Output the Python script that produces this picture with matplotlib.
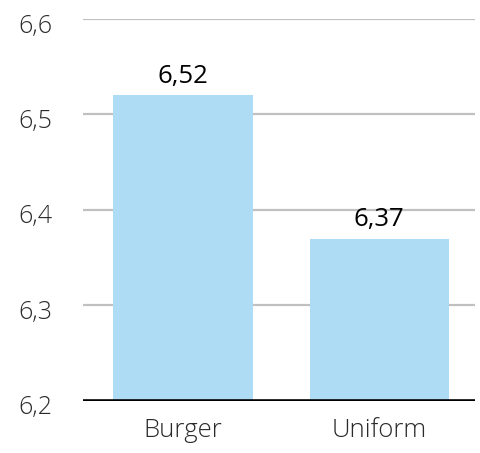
import matplotlib.pyplot as plt
import matplotlib.transforms as mtransforms

# values per group
categories = ['Burger', 'Uniform']
scores = [6.52, 6.37]
yticks = [6.2, 6.3, 6.4, 6.5, 6.6]

bar_color = '#addcf4'
grid_color = '#c0c0c0'
text_color = '#2a2a2a'
font = 'Open Sans'

fig = plt.figure(figsize=(4.8, 4.53), dpi=100)
ax = fig.add_axes([0.173, 0.115, 0.817, 0.843])

x = range(len(categories))
ax.bar(x, scores, width=0.71, bottom=0, color=bar_color, zorder=2)

ax.set_xlim(-0.51, 1.49)
ax.set_ylim(6.2, 6.6)

# horizontal gridlines, black baseline
for y in yticks[1:]:
    ax.axhline(y, color=grid_color, linewidth=1.6, zorder=1)
ax.axhline(yticks[0], color='black', linewidth=2.6, zorder=3)

for s in ax.spines.values():
    s.set_visible(False)

ax.set_yticks(yticks)
ax.set_yticklabels([f'{v:.1f}'.replace('.', ',') for v in yticks],
                   fontsize=18, fontfamily=font, color=text_color, fontweight='light')
ax.set_xticks(list(x))
ax.set_xticklabels(categories, fontsize=18.5, fontfamily=font, color=text_color, fontweight='light')
ax.tick_params(axis='both', length=0)
ax.tick_params(axis='y', pad=22)
ax.tick_params(axis='x', pad=12)

# nudge tick labels down slightly
offset = mtransforms.ScaledTranslation(0, -4 / 100, fig.dpi_scale_trans)
for lab in ax.get_yticklabels():
    lab.set_transform(lab.get_transform() + offset)

# value labels above bars
for xi, v in zip(x, scores):
    ax.annotate(f'{v:.2f}'.replace('.', ','), (xi, v), xytext=(0, 9),
                textcoords='offset points', ha='center', va='baseline',
                fontsize=18.5, fontfamily=font, color='black', zorder=4)

plt.savefig('out.png', dpi=100)
